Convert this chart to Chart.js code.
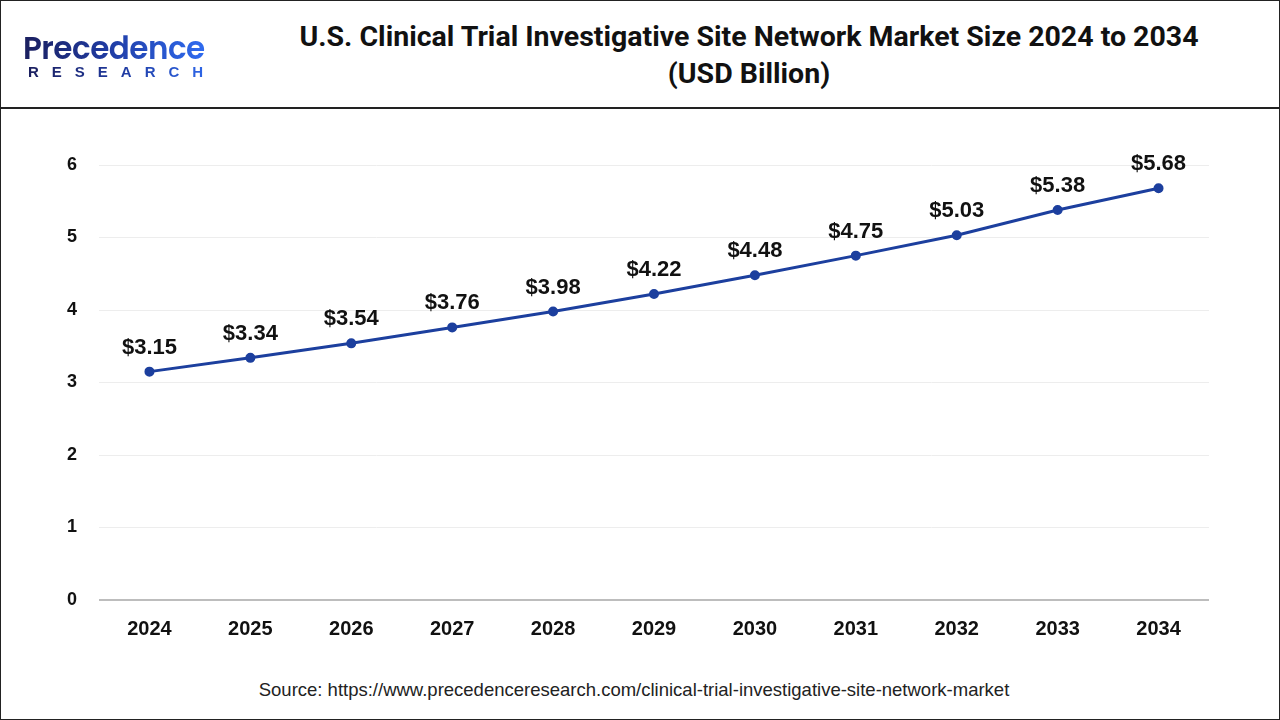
<!DOCTYPE html>
<html>
<head>
<meta charset="utf-8">
<script src="https://cdn.jsdelivr.net/npm/chart.js@4"></script>
<style>
    body { margin: 0; background: #fff; }
    #frame {
        position: relative; width: 1280px; height: 720px; box-sizing: border-box;
        border: 1.5px solid #222; overflow: hidden; font-family: "Liberation Sans", Arial, sans-serif;
    }
    #header { position: absolute; left: 0; top: 0; width: 100%; height: 106px; border-bottom: 2px solid #222; }
    #logo1 {
        position: absolute; left: 22px; top: 24px; font-family: Poppins, "Open Sans", sans-serif;
        font-size: 31px; font-weight: 600; letter-spacing: -0.5px;
        background: linear-gradient(90deg, #1b1f5e 0%, #1f3aa0 45%, #2f6bf0 100%);
        -webkit-background-clip: text; background-clip: text; color: transparent;
    }
    #logo2 {
        position: absolute; left: 27px; top: 62px; font-size: 15px; font-weight: bold; letter-spacing: 13px;
        background: linear-gradient(90deg, #1b1f5e 0%, #1f3aa0 50%, #2f6bf0 100%);
        -webkit-background-clip: text; background-clip: text; color: transparent;
    }
    #title {
        position: absolute; left: 230px; width: 1036px; top: 17px; text-align: center;
        font-family: Roboto, sans-serif; font-weight: bold; font-size: 28.5px; line-height: 37px; color: #111;
    }
    #wrap { position: absolute; left: 0; top: 108px; width: 1280px; height: 552px; }
    #source {
        position: absolute; left: 0; width: 1266px; top: 678px; text-align: center;
        font-size: 18.5px; color: #222;
    }
</style>
</head>
<body>
<div id="frame">
    <div id="header">
        <div id="logo1">Precedence</div>
        <div id="logo2">RESEARCH</div>
        <div id="title">U.S. Clinical Trial Investigative Site Network Market Size 2024 to 2034<br>(USD Billion)</div>
    </div>
    <div id="wrap"><canvas id="marketChart"></canvas></div>
    <div id="source">Source: https://www.precedenceresearch.com/clinical-trial-investigative-site-network-market</div>
</div>
<script>
const years = ['2024', '2025', '2026', '2027', '2028', '2029', '2030', '2031', '2032', '2033', '2034'];
const marketSize = [3.15, 3.34, 3.54, 3.76, 3.98, 4.22, 4.48, 4.75, 5.03, 5.38, 5.68];
const yTicks = [0, 1, 2, 3, 4, 5, 6];

const lineColor = '#1c3f9e';

// writes the $ value above each point
const valueLabels = {
    id: 'valueLabels',
    afterDatasetsDraw(chart) {
        const ctx = chart.ctx;
        const meta = chart.getDatasetMeta(0);
        ctx.save();
        ctx.font = 'bold 22px "Liberation Sans", Arial, sans-serif';
        ctx.fillStyle = '#111';
        ctx.textAlign = 'center';
        ctx.textBaseline = 'middle';
        meta.data.forEach((pt, i) => {
            ctx.fillText('$' + marketSize[i].toFixed(2), pt.x, pt.y - 24);
        });
        ctx.restore();
    }
};

new Chart(document.getElementById('marketChart'), {
    type: 'line',
    data: {
        labels: years,
        datasets: [{
            data: marketSize,
            borderColor: lineColor,
            backgroundColor: lineColor,
            borderWidth: 3,
            pointRadius: 3.5,
            pointHoverRadius: 3.5,
            tension: 0
        }]
    },
    options: {
        responsive: true,
        maintainAspectRatio: false,
        animation: false,
        layout: { padding: { top: 56, right: 72, bottom: 11, left: 0 } },
        plugins: { legend: { display: false }, tooltip: { enabled: false } },
        scales: {
            x: {
                offset: true,
                grid: { display: false, drawTicks: false },
                border: { display: false },
                afterFit: axis => { axis.height = 50; },
                ticks: {
                    padding: 17,
                    color: '#111',
                    font: { family: '"Liberation Sans", Arial, sans-serif', size: 20, weight: 'bold' }
                }
            },
            y: {
                min: 0,
                max: 6,
                afterFit: axis => { axis.width = 98; },
                afterBuildTicks: axis => { axis.ticks = yTicks.map(v => ({ value: v })); },
                border: { display: false },
                grid: {
                    drawTicks: false,
                    color: c => c.tick && c.tick.value === 0 ? '#bdbdbd' : '#ededed',
                    lineWidth: c => c.tick && c.tick.value === 0 ? 2 : 1
                },
                ticks: {
                    padding: 22,
                    color: '#111',
                    font: { family: '"Liberation Sans", Arial, sans-serif', size: 18, weight: 'bold' }
                }
            }
        }
    },
    plugins: [valueLabels]
});
</script>
</body>
</html>
